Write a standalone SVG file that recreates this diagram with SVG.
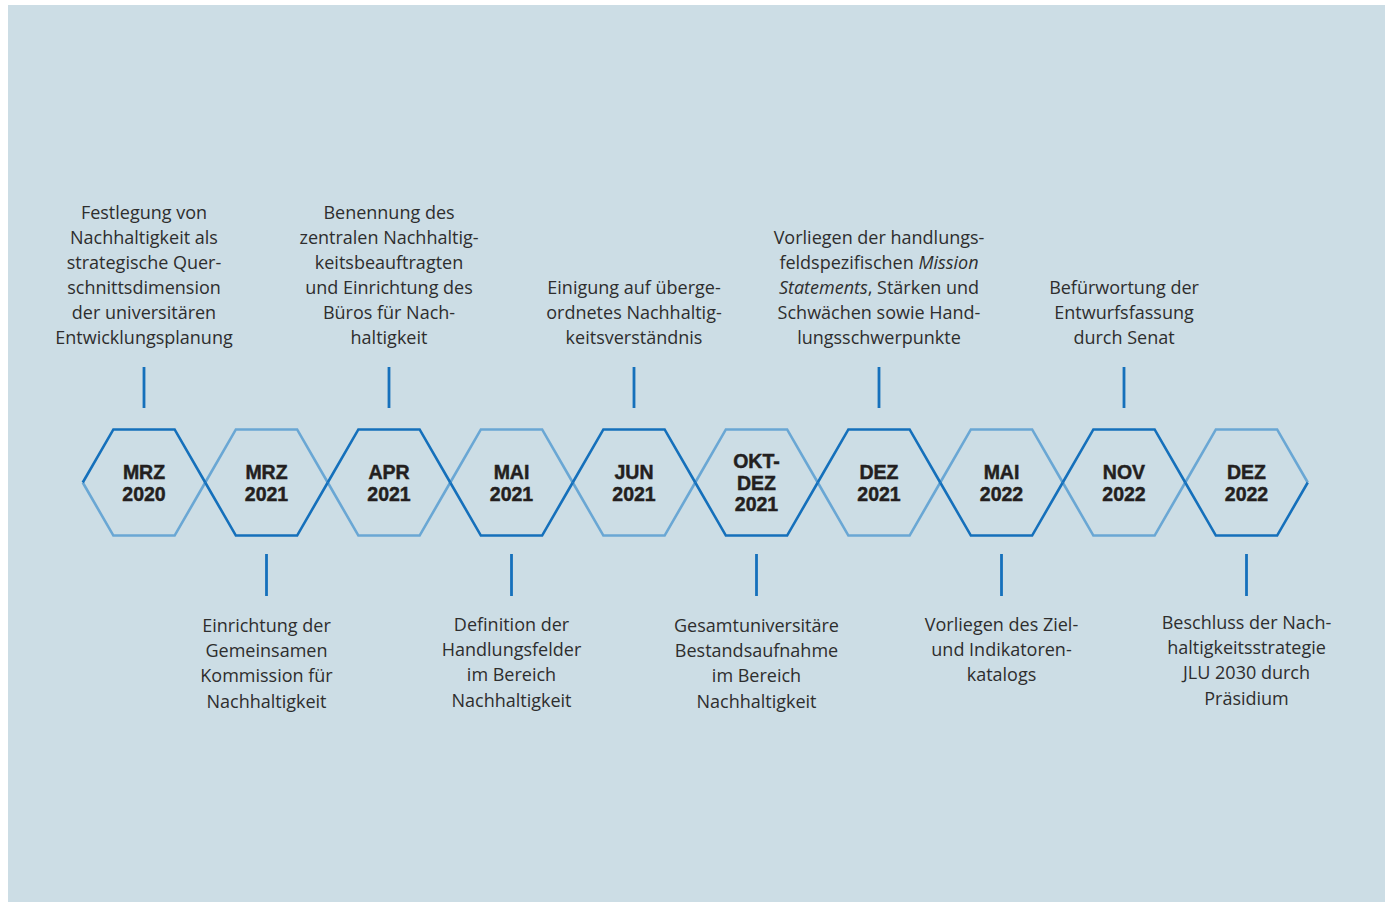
<svg xmlns="http://www.w3.org/2000/svg" xmlns:xlink="http://www.w3.org/1999/xlink" width="1389" height="903" viewBox="0 0 1389 903">
  <style>
    .bg { fill: #ccdde5; }
    .dark { fill: none; stroke: #1570bb; stroke-width: 2.6; stroke-linejoin: miter; }
    .light { fill: none; stroke: #6aa7d4; stroke-width: 2.6; stroke-linejoin: miter; }
    .tick { stroke: #1570bb; stroke-width: 2.8; }
    .date { font-family: "Liberation Sans", Arial, sans-serif; font-weight: bold; font-size: 19.5px; fill: #231f20; stroke: #231f20; stroke-width: 0.45; text-anchor: middle; }
    .lbl { font-family: "Open Sans", "Noto Sans", sans-serif; font-size: 18px; fill: #2e2e2e; text-anchor: middle; }
    .it { font-style: italic; }
  </style>
  <defs>
    <!-- upper and lower halves of a regular hexagon centred on the origin -->
    <path id="hexTop" d="M-61.25,0 L-30.625,-53.05 L30.625,-53.05 L61.25,0"/>
    <path id="hexBot" d="M-61.25,0 L-30.625,53.05 L30.625,53.05 L61.25,0"/>
  </defs>

  <rect class="bg" x="8" y="5" width="1377" height="897"/>

  <!-- leader ticks between labels and hexagons -->
  <g id="connectors">
    <line class="tick" x1="144" y1="367" x2="144" y2="408"/>
    <line class="tick" x1="389" y1="367" x2="389" y2="408"/>
    <line class="tick" x1="634" y1="367" x2="634" y2="408"/>
    <line class="tick" x1="879" y1="367" x2="879" y2="408"/>
    <line class="tick" x1="1124" y1="367" x2="1124" y2="408"/>
    <line class="tick" x1="266.5" y1="554" x2="266.5" y2="596"/>
    <line class="tick" x1="511.5" y1="554" x2="511.5" y2="596"/>
    <line class="tick" x1="756.5" y1="554" x2="756.5" y2="596"/>
    <line class="tick" x1="1001.5" y1="554" x2="1001.5" y2="596"/>
    <line class="tick" x1="1246.5" y1="554" x2="1246.5" y2="596"/>
  </g>

  <!-- hexagon outlines: light halves first so the dark zigzag stays on top -->
  <g id="hex-light">
    <use href="#hexBot" class="light" transform="translate(144,482.5)"/>
    <use href="#hexTop" class="light" transform="translate(266.5,482.5)"/>
    <use href="#hexBot" class="light" transform="translate(389,482.5)"/>
    <use href="#hexTop" class="light" transform="translate(511.5,482.5)"/>
    <use href="#hexBot" class="light" transform="translate(634,482.5)"/>
    <use href="#hexTop" class="light" transform="translate(756.5,482.5)"/>
    <use href="#hexBot" class="light" transform="translate(879,482.5)"/>
    <use href="#hexTop" class="light" transform="translate(1001.5,482.5)"/>
    <use href="#hexBot" class="light" transform="translate(1124,482.5)"/>
    <use href="#hexTop" class="light" transform="translate(1246.5,482.5)"/>
  </g>

  <g id="node-mrz-2020">
    <use href="#hexTop" class="dark" transform="translate(144,482.5)"/>
    <text class="date" x="144" y="478.5">MRZ</text>
    <text class="date" x="144" y="500.5">2020</text>
    <text class="lbl" x="144" y="218.5">Festlegung von</text>
    <text class="lbl" x="144" y="243.6">Nachhaltigkeit als</text>
    <text class="lbl" x="144" y="268.7">strategische Quer-</text>
    <text class="lbl" x="144" y="293.8">schnittsdimension</text>
    <text class="lbl" x="144" y="318.9">der universitären</text>
    <text class="lbl" x="144" y="344">Entwicklungsplanung</text>
  </g>

  <g id="node-mrz-2021">
    <use href="#hexBot" class="dark" transform="translate(266.5,482.5)"/>
    <text class="date" x="266.5" y="478.5">MRZ</text>
    <text class="date" x="266.5" y="500.5">2021</text>
    <text class="lbl" x="266.5" y="632">Einrichtung der</text>
    <text class="lbl" x="266.5" y="657.2">Gemeinsamen</text>
    <text class="lbl" x="266.5" y="682.4">Kommission für</text>
    <text class="lbl" x="266.5" y="707.6">Nachhaltigkeit</text>
  </g>

  <g id="node-apr-2021">
    <use href="#hexTop" class="dark" transform="translate(389,482.5)"/>
    <text class="date" x="389" y="478.5">APR</text>
    <text class="date" x="389" y="500.5">2021</text>
    <text class="lbl" x="389" y="218.5">Benennung des</text>
    <text class="lbl" x="389" y="243.6">zentralen Nachhaltig-</text>
    <text class="lbl" x="389" y="268.7">keitsbeauftragten</text>
    <text class="lbl" x="389" y="293.8">und Einrichtung des</text>
    <text class="lbl" x="389" y="318.9">Büros für Nach-</text>
    <text class="lbl" x="389" y="344">haltigkeit</text>
  </g>

  <g id="node-mai-2021">
    <use href="#hexBot" class="dark" transform="translate(511.5,482.5)"/>
    <text class="date" x="511.5" y="478.5">MAI</text>
    <text class="date" x="511.5" y="500.5">2021</text>
    <text class="lbl" x="511.5" y="631">Definition der</text>
    <text class="lbl" x="511.5" y="656.2">Handlungsfelder</text>
    <text class="lbl" x="511.5" y="681.4">im Bereich</text>
    <text class="lbl" x="511.5" y="706.6">Nachhaltigkeit</text>
  </g>

  <g id="node-jun-2021">
    <use href="#hexTop" class="dark" transform="translate(634,482.5)"/>
    <text class="date" x="634" y="478.5">JUN</text>
    <text class="date" x="634" y="500.5">2021</text>
    <text class="lbl" x="634" y="293.8">Einigung auf überge-</text>
    <text class="lbl" x="634" y="318.9">ordnetes Nachhaltig-</text>
    <text class="lbl" x="634" y="344">keitsverständnis</text>
  </g>

  <g id="node-okt-dez-2021">
    <use href="#hexBot" class="dark" transform="translate(756.5,482.5)"/>
    <text class="date" x="756.5" y="468">OKT-</text>
    <text class="date" x="756.5" y="489.5">DEZ</text>
    <text class="date" x="756.5" y="511">2021</text>
    <text class="lbl" x="756.5" y="632">Gesamtuniversitäre</text>
    <text class="lbl" x="756.5" y="657.2">Bestandsaufnahme</text>
    <text class="lbl" x="756.5" y="682.4">im Bereich</text>
    <text class="lbl" x="756.5" y="707.6">Nachhaltigkeit</text>
  </g>

  <g id="node-dez-2021">
    <use href="#hexTop" class="dark" transform="translate(879,482.5)"/>
    <text class="date" x="879" y="478.5">DEZ</text>
    <text class="date" x="879" y="500.5">2021</text>
    <text class="lbl" x="879" y="243.6">Vorliegen der handlungs-</text>
    <text class="lbl" x="879" y="268.7">feldspezifischen <tspan class="it">Mission</tspan></text>
    <text class="lbl" x="879" y="293.8"><tspan class="it">Statements</tspan>, Stärken und</text>
    <text class="lbl" x="879" y="318.9">Schwächen sowie Hand-</text>
    <text class="lbl" x="879" y="344">lungsschwerpunkte</text>
  </g>

  <g id="node-mai-2022">
    <use href="#hexBot" class="dark" transform="translate(1001.5,482.5)"/>
    <text class="date" x="1001.5" y="478.5">MAI</text>
    <text class="date" x="1001.5" y="500.5">2022</text>
    <text class="lbl" x="1001.5" y="631">Vorliegen des Ziel-</text>
    <text class="lbl" x="1001.5" y="656.2">und Indikatoren-</text>
    <text class="lbl" x="1001.5" y="681.4">katalogs</text>
  </g>

  <g id="node-nov-2022">
    <use href="#hexTop" class="dark" transform="translate(1124,482.5)"/>
    <text class="date" x="1124" y="478.5">NOV</text>
    <text class="date" x="1124" y="500.5">2022</text>
    <text class="lbl" x="1124" y="293.8">Befürwortung der</text>
    <text class="lbl" x="1124" y="318.9">Entwurfsfassung</text>
    <text class="lbl" x="1124" y="344">durch Senat</text>
  </g>

  <g id="node-dez-2022">
    <use href="#hexBot" class="dark" transform="translate(1246.5,482.5)"/>
    <text class="date" x="1246.5" y="478.5">DEZ</text>
    <text class="date" x="1246.5" y="500.5">2022</text>
    <text class="lbl" x="1246.5" y="629">Beschluss der Nach-</text>
    <text class="lbl" x="1246.5" y="654.2">haltigkeitsstrategie</text>
    <text class="lbl" x="1246.5" y="679.4">JLU 2030 durch</text>
    <text class="lbl" x="1246.5" y="704.6">Präsidium</text>
  </g>
</svg>
